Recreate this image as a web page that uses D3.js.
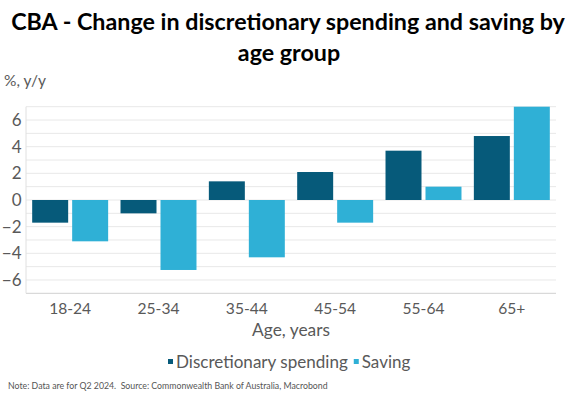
<!DOCTYPE html>
<html><head><meta charset="utf-8">
<script src="https://cdn.jsdelivr.net/npm/d3@7"></script>
<style>body{margin:0;background:#fff}svg{display:block}</style>
</head><body>
<svg id="c" width="576" height="400"></svg>
<script>
const categories = ["18-24","25-34","35-44","45-54","55-64","65+"];
const seriesNames = ["Discretionary spending","Saving"];
const discretionary = [-1.7,-1.0,1.4,2.1,3.7,4.8];
const saving = [-3.1,-5.25,-4.3,-1.7,1.0,7.0];
const yTicks = [-6,-4,-2,0,2,4,6];
const colors = ["#065a7a","#2fb0d6"];

const svg = d3.select("#c");
const FONT = "Lato, 'Open Sans', sans-serif";
const x0 = d3.scaleBand().domain(categories).range([26,556]).paddingInner(0.14).paddingOuter(0.07);
const x1 = d3.scaleBand().domain(seriesNames).range([0,x0.bandwidth()]).paddingInner(0.1);
const y = d3.scaleLinear().domain([-7,7]).range([293.3,106.7]);

function fit(sel, w){ const n=sel.node(); const L=n.getComputedTextLength(); const fs=parseFloat(sel.attr("font-size")); sel.attr("font-size", fs*w/L); return fs*w/L; }

// title
const t1 = svg.append("text").attr("x",288).attr("y",30).attr("text-anchor","middle").attr("font-family",FONT).attr("font-weight","bold").attr("font-size",21).attr("fill","#000").text("CBA - Change in discretionary spending and saving by");
const fsT = fit(t1,554);
svg.append("text").attr("x",289).attr("y",61).attr("text-anchor","middle").attr("font-family",FONT).attr("font-weight","bold").attr("font-size",fsT).attr("fill","#000").text("age group");

// gridlines every 1
const grid = d3.range(-7,8);
svg.append("g").selectAll("line").data(grid).join("line")
  .attr("x1",26).attr("x2",556).attr("y1",d=>y(d)).attr("y2",d=>y(d))
  .attr("stroke",d=>d===-7?"#d0d0d0":"#e8e8e8").attr("stroke-width",1);
svg.append("line").attr("x1",26).attr("x2",26).attr("y1",y(7)).attr("y2",y(-7)).attr("stroke","#e0e0e0");

// y axis
const yAxis = d3.axisLeft(y).tickValues(yTicks).tickSize(0).tickPadding(0);
const ya = svg.append("g").attr("transform","translate(21.5,0)").call(yAxis);
ya.select(".domain").remove();
ya.selectAll("text").attr("font-family",FONT).attr("font-size",17).attr("fill","#595959");

svg.append("text").attr("x",4).attr("y",86).attr("font-family",FONT).attr("font-size",15.5).attr("fill","#595959").text("%, y/y");

// x axis
const xAxis = d3.axisBottom(x0).tickSize(0).tickPadding(0);
const xa = svg.append("g").attr("transform","translate(0,0)").call(xAxis);
xa.select(".domain").remove();
const probe = xa.select("text").attr("font-size",17).attr("font-family",FONT);
const fsX = fit(probe,42);
xa.selectAll("text").attr("font-family",FONT).attr("font-size",fsX).attr("fill","#595959").attr("dy",null).attr("y",313.5);

const ax = svg.append("text").attr("x",291).attr("y",336).attr("text-anchor","middle").attr("font-family",FONT).attr("font-size",17).attr("fill","#595959").text("Age, years");
fit(ax,78);

// bars
const rows = categories.map((c,i)=>({c, vals:[discretionary[i],saving[i]]}));
svg.append("g").selectAll("g").data(rows).join("g")
  .attr("transform",d=>`translate(${x0(d.c)},0)`)
  .selectAll("rect").data(d=>d.vals.map((v,j)=>({v,s:seriesNames[j],j})))
  .join("rect")
  .attr("x",d=>x1(d.s)).attr("width",x1.bandwidth())
  .attr("y",d=>y(Math.max(0,d.v))).attr("height",d=>Math.abs(y(d.v)-y(0)))
  .attr("fill",d=>colors[d.j]);

// legend
const lg = svg.append("g");
let lx = 168;
seriesNames.forEach((s,j)=>{
  lg.append("rect").attr("x",lx).attr("y",359).attr("width",5).attr("height",5).attr("fill",colors[j]);
  const t = lg.append("text").attr("x",lx+8).attr("y",368).attr("font-family",FONT).attr("font-size",17).attr("fill","#595959").text(s);
  if(j===0) fit(t,172);
  lx = lx + 8 + t.node().getComputedTextLength() + 6;
});

const note = svg.append("text").attr("x",8).attr("y",389).attr("font-family",FONT).attr("font-size",8.3).attr("fill","#555").text("Note: Data are for Q2 2024.  Source: Commonwealth Bank of Australia, Macrobond");
note.attr("xml:space","preserve").style("white-space","pre");
fit(note,320);
</script>
</body></html>
